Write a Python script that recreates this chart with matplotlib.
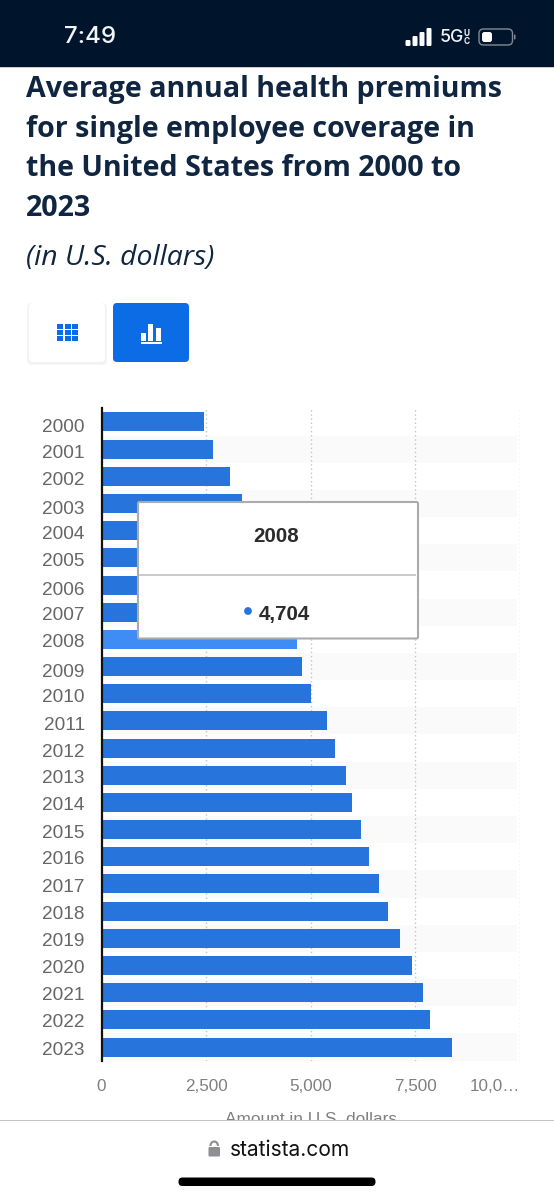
import matplotlib
matplotlib.use("Agg")
import matplotlib.pyplot as plt
from matplotlib.patches import Rectangle, FancyBboxPatch, Circle, Arc
from matplotlib.transforms import ScaledTranslation

years = [str(y) for y in range(2000, 2024)]
premiums = [2471, 2689, 3083, 3383, 3695, 4024, 4242, 4479, 4704, 4824, 5049, 5429,
            5615, 5884, 6025, 6251, 6435, 6690, 6896, 7188, 7470, 7739, 7911, 8435]
highlight_year = "2008"
x_ticks = [0, 2500, 5000, 7500, 10000]
x_tick_labels = ["0", "2,500", "5,000", "7,500", "10,0…"]
title_lines = ["Average annual health premiums", "for single employee coverage in",
               "the United States from 2000 to", "2023"]
subtitle = "(in U.S. dollars)"
x_label = "Amount in U.S. dollars"
tooltip_year = "2008"
tooltip_value = "4,704"

W, H = 554, 1200
fig = plt.figure(figsize=(W / 100, H / 100), dpi=100, facecolor="white")

def px_axes(l, t, r, b, **kw):
    return fig.add_axes([l / W, 1 - b / H, (r - l) / W, (b - t) / H], **kw)

# ---- grid layer: stripes, gridlines, value axis ----
PLOT_L, PLOT_T, PLOT_B = 101.5, 408.4, 1060.6
GRID_R, BAR_R = 520, 517
gx = px_axes(PLOT_L, PLOT_T, GRID_R, PLOT_B, zorder=1)
gx.set_xlim(0, 10000)
gx.set_ylim(len(years) - 0.5, -0.5)
for i in range(1, len(years), 2):
    gx.axhspan(i - 0.5, i + 0.5, xmin=0, xmax=(BAR_R - PLOT_L) / (GRID_R - PLOT_L),
               color="#fafafa", lw=0, zorder=0)
for t in x_ticks[1:]:
    gx.axvline(t, color="#c4c4c4", lw=1.0, ls=(0, (1, 2)), zorder=1)
for s in gx.spines.values():
    s.set_visible(False)
gx.set_yticks([])
gx.set_xticks(x_ticks)
gx.set_xticklabels(x_tick_labels, family="Liberation Sans", fontsize=12.3, color="#808080")
gx.get_xticklabels()[-1].set_ha("right")
gx.tick_params(axis="x", length=0, pad=13)
gx.set_xlabel(x_label, family="Liberation Sans", fontsize=12.4, color="#808080", va="top")
gx.xaxis.set_label_coords(0.5006, -0.0785)

# ---- bar layer ----
ax = px_axes(PLOT_L, PLOT_T, BAR_R, PLOT_B, zorder=2)
ax.set_facecolor("none")
ax.set_xlim(0, 10000)
ax.set_ylim(len(years) - 0.5, -0.5)
colors = ["#3f8cf5" if y == highlight_year else "#2874dd" for y in years]
ax.barh(range(len(years)), premiums, height=0.7, color=colors, zorder=2)
for s in ["top", "right", "bottom"]:
    ax.spines[s].set_visible(False)
ax.spines["left"].set_color("#111111")
ax.spines["left"].set_linewidth(1.6)
ax.spines["left"].set_zorder(5)
ax.set_xticks([])
ax.set_yticks(range(len(years)))
ax.set_yticklabels(years, family="Liberation Sans", fontsize=13.7, color="#666666")
ax.tick_params(axis="y", length=0, pad=12)
# the screenshot's year labels sit unevenly below their bars (pixels)
label_nudge = [3.5, 2.2, 2, 3.9, 2.2, 1.8, 3.2, 0.8, 1.5, 3.5, 1.5, 2.5,
               2.5, 1.5, 1.5, 2, 1, 1.5, 1.5, 1.5, 1, 1, 1, 1]
for lab, dy in zip(ax.get_yticklabels(), label_nudge):
    lab.set_transform(lab.get_transform() + ScaledTranslation(0, -dy / 100, fig.dpi_scale_trans))

# ---- screen chrome, in pixel coordinates ----
ov = px_axes(0, 0, W, H, zorder=10)
ov.set_xlim(0, W)
ov.set_ylim(H, 0)
ov.axis("off")
ov.patch.set_alpha(0)

def rect(x0, y0, x1, y1, color, z=1, **kw):
    ov.add_patch(Rectangle((x0, y0), x1 - x0, y1 - y0, facecolor=color, lw=0, zorder=z, **kw))

def rrect(x0, y0, x1, y1, r, fc, ec="none", lw=0, z=1):
    ov.add_patch(FancyBboxPatch((x0 + r, y0 + r), x1 - x0 - 2 * r, y1 - y0 - 2 * r,
                                boxstyle=f"round,pad={r},rounding_size={r}",
                                fc=fc, ec=ec, lw=lw, zorder=z))

# status bar
rect(0, 0, W, 67, "#00142b")
rect(0, 67, W, 68, "#c8ccd0")
ov.text(90, 37, "7:49", color="#f2f4f6", fontsize=17.4, family="Inter", weight="medium",
        ha="center", va="center")
for x0, y0 in [(405.5, 40), (412.5, 36), (419.5, 32), (426.5, 28)]:
    rrect(x0, y0, x0 + 5, 46, 1.2, "white", z=2)
ov.text(440, 37.5, "5G", color="#f2f4f6", fontsize=12.8, family="Inter", weight="medium",
        ha="left", va="center")
ov.text(466.5, 33, "U", color="#f2f4f6", fontsize=6, family="Inter", weight="bold", ha="center", va="center")
ov.text(466.5, 42, "C", color="#f2f4f6", fontsize=6, family="Inter", weight="bold", ha="center", va="center")
rrect(479, 29, 512.5, 45, 4.5, "none", ec="#7f8a96", lw=1.0, z=2)
rrect(482, 32, 492, 42, 2.5, "white", z=3)
rrect(514, 34.5, 515.5, 39.5, 0.7, "#7f8a96", z=2)

# title
navy = "#0f2540"
for line, base in zip(title_lines, [97, 136.5, 176, 216]):
    ov.text(26, base, line, color=navy, fontsize=20.6, family="Open Sans", weight="bold",
            ha="left", va="baseline")
ov.text(26, 265, subtitle, color=navy, fontsize=20.4, family="Open Sans", style="italic",
        ha="left", va="baseline")

# buttons
rrect(27, 303, 107, 365, 5, "#f6f6f6", z=1)
rrect(28, 303, 106, 363.5, 4, "#f1f1f1", z=1)
rrect(29, 303, 105, 362, 4, "white", z=2)
rrect(113, 303, 189, 362, 4, "#0b6ce6", z=2)
for cx in [57, 64.5, 72]:
    for cy in [324, 330.2, 336.4]:
        rect(cx, cy, cx + 6, cy + 5, "#0b6ce6", z=3)
for x0, x1, y0 in [(141, 145.6, 333), (148.4, 153, 323.5), (155.5, 160.8, 328)]:
    rect(x0, y0, x1, 340.5, "white", z=3)
rect(141, 342, 162, 343.6, "white", z=3)

# tooltip
rrect(138, 502, 418, 638.5, 1.5, "white", ec="#ababab", lw=1.5, z=4)
rect(139, 574.3, 415.5, 575.8, "#cccccc", z=5)
ov.text(276.5, 537, tooltip_year, color="#2b2b2b", fontsize=14.8, family="Liberation Sans",
        weight="bold", ha="center", va="center", zorder=6)
ov.add_patch(Circle((248, 611), 3.9, fc="#2874dd", ec="none", zorder=5))
ov.text(258.5, 614.5, tooltip_value, color="#2b2b2b", fontsize=14.8, family="Liberation Sans",
        weight="bold", ha="left", va="center", zorder=6)

# browser footer
rect(0, 1120.5, W, H, "white", z=7)
rect(0, 1120, W, 1121, "#c4c4c4", z=8)
rrect(208.5, 1147, 220, 1156.5, 1.2, "#8e8e93", z=8)
ov.add_patch(Arc((214.2, 1146), 7.5, 9, theta1=180, theta2=360, color="#8e8e93", lw=1.5, zorder=8))
ov.text(230, 1149.5, "statista.com", color="#111111", fontsize=15.1, family="Inter",
        ha="left", va="center", zorder=8)
rrect(178.5, 1177.5, 375.5, 1186, 4, "black", z=8)

fig.savefig("out.png", dpi=100)
